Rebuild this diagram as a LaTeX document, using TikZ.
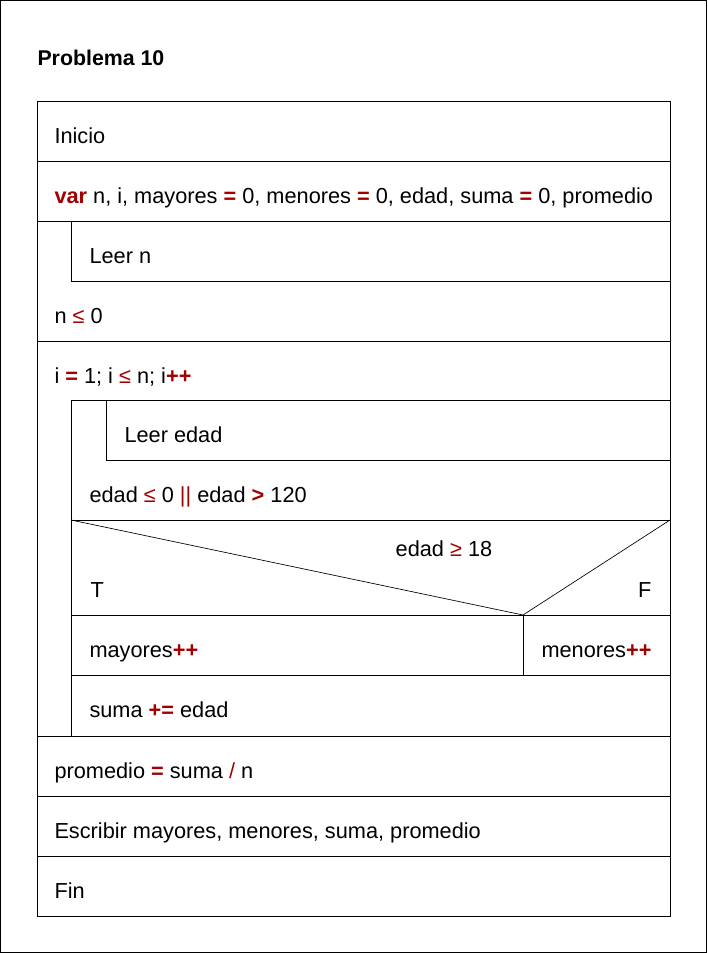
\documentclass[tikz,border=0pt]{standalone}
\usepackage{fontspec}
\setmainfont{Liberation Sans}
\definecolor{kwred}{RGB}{160,0,0}
\newcommand{\kwd}[1]{\textcolor{kwred}{\textbf{#1}}}
\newcommand{\kwr}[1]{\textcolor{kwred}{#1}}
\begin{document}
\begin{tikzpicture}[x=0.75pt,y=-0.75pt,line width=0.75pt,
  txt/.style={anchor=base west,inner sep=0pt,font=\fontsize{16.3}{19}\selectfont},
  txtc/.style={txt,anchor=base},
  txte/.style={txt,anchor=base east},
  ttl/.style={anchor=base west,inner sep=0pt,font=\bfseries\fontsize{16}{19}\selectfont},
  thin/.style={line width=0.5pt}]
\useasboundingbox (0,0) rectangle (707,953);
\draw (0.5,0.5) rectangle (706.5,952.5);
\node[ttl] (title) at (37,65) {Problema 10};
% main frame
\draw (37,101) rectangle (670,916);
\draw (37,161) -- (670,161);
\draw (37,221) -- (670,221);
\draw (71,221) -- (71,281) -- (670,281);
\draw (37,341) -- (670,341);
% for body
\draw (71,736) -- (71,400) -- (670,400);
\draw (106,400) -- (106,460) -- (670,460);
\draw (71,520) -- (670,520);
\draw[thin] (71,520) -- (523,615) -- (670,520);
\draw (71,615) -- (670,615);
\draw (523,615) -- (523,675);
\draw (71,675) -- (670,675);
\draw (37,736) -- (670,736);
\draw (37,796) -- (670,796);
\draw (37,856) -- (670,856);
% texts
\node[txt] (inicio) at (54,143) {Inicio};
\node[txt] (var) at (54,203) {\kwd{var} n, i, mayores \kwd{=} 0, menores \kwd{=} 0, edad, suma \kwd{=} 0, promedio};
\node[txt] (leern) at (89,263) {Leer n};
\node[txt] (cond1) at (54,323) {n \kwr{≤} 0};
\node[txt] (fori) at (54,383) {i \kwd{=} 1; i \kwr{≤} n; i\kwd{++}};
\node[txt] (leeredad) at (124,442) {Leer edad};
\node[txt] (cond2) at (89,502) {edad \kwr{≤} 0 \kwr{||} edad \kwd{>} 120};
\node[txtc] (cond3) at (444,556) {edad \kwr{≥} 18};
\node[txt] (t) at (90,597) {T};
\node[txte] (f) at (652,597) {F};
\node[txt] (may) at (89,657) {mayores\kwd{++}};
\node[txt] (men) at (541,657) {menores\kwd{++}};
\node[txt] (suma) at (89,717) {suma \kwd{+=} edad};
\node[txt] (prom) at (54,778) {promedio \kwd{=} suma \kwr{/} n};
\node[txt] (esc) at (54,838) {Escribir mayores, menores, suma, promedio};
\node[txt] (fin) at (54,898) {Fin};
\end{tikzpicture}
\end{document}
